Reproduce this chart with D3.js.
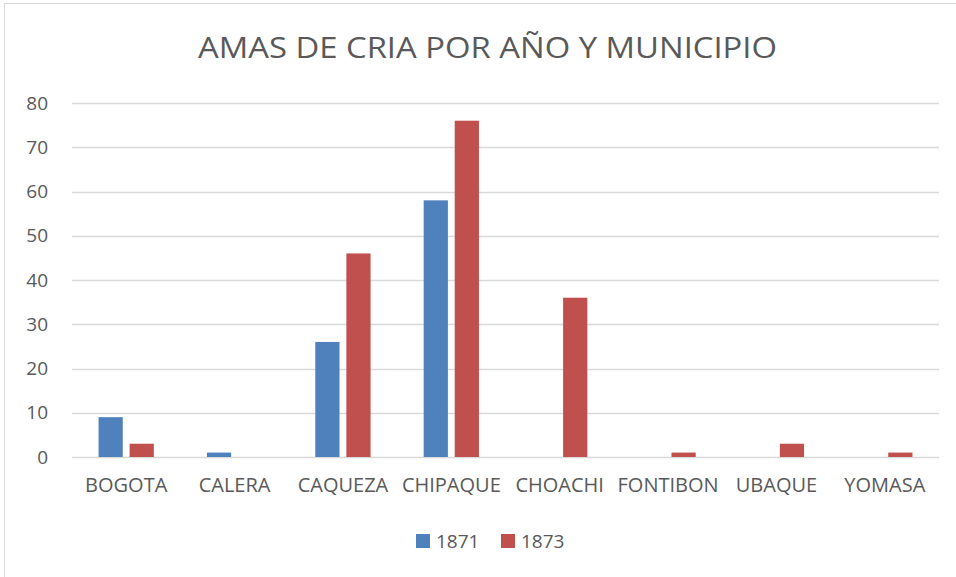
<!DOCTYPE html>
<html>
<head>
<meta charset="utf-8">
<script src="https://cdn.jsdelivr.net/npm/d3@7"></script>
<style>
  body { margin: 0; background: #fff; }
  text { font-family: "Open Sans", "Liberation Sans", sans-serif; fill: #595959; }
</style>
</head>
<body>
<div id="chart"></div>
<script>
const municipios = ["BOGOTA", "CALERA", "CAQUEZA", "CHIPAQUE", "CHOACHI", "FONTIBON", "UBAQUE", "YOMASA"];
const years = ["1871", "1873"];
const values1871 = [9, 1, 26, 58, 0, 0, 0, 0];
const values1873 = [3, 0, 46, 76, 36, 1, 3, 1];
const yTicks = [0, 10, 20, 30, 40, 50, 60, 70, 80];
const title = "AMAS DE CRIA POR AÑO Y MUNICIPIO";

const colors = ["#4F81BD", "#C0504D"];
const width = 956;
const height = 577;
const plotLeft = 72;
const plotRight = 939;
const plotTop = 103;
const plotBottom = 457;

const svg = d3.select("#chart")
    .append("svg")
    .attr("width", width)
    .attr("height", height);

// chart frame
svg.append("rect")
    .attr("x", 4.5)
    .attr("y", 3.5)
    .attr("width", width + 10)
    .attr("height", height + 10)
    .attr("fill", "none")
    .attr("stroke", "#d9d9d9");

svg.append("text")
    .attr("x", 487.5)
    .attr("y", 57.5)
    .attr("text-anchor", "middle")
    .attr("textLength", 579)
    .attr("lengthAdjust", "spacingAndGlyphs")
    .style("font-size", "29px")
    .text(title);

const x = d3.scaleBand()
    .domain(municipios)
    .range([plotLeft, plotRight])
    .paddingInner(0.49)
    .paddingOuter(0.245);

const x1 = d3.scaleBand()
    .domain(years)
    .range([0, x.bandwidth()])
    .paddingInner(0.22);

const y = d3.scaleLinear()
    .domain([0, 80])
    .range([plotBottom, plotTop]);

// gridlines
svg.append("g")
    .selectAll("line")
    .data(yTicks)
    .join("line")
    .attr("x1", plotLeft)
    .attr("x2", plotRight)
    .attr("y1", d => Math.round(y(d)) + 0.5)
    .attr("y2", d => Math.round(y(d)) + 0.5)
    .attr("stroke", "#d9d9d9")
    .attr("stroke-width", 1.5);

const yAxis = svg.append("g")
    .attr("transform", `translate(${plotLeft},0)`)
    .call(d3.axisLeft(y).tickValues(yTicks).tickSize(0).tickPadding(24));
yAxis.select(".domain").remove();
yAxis.selectAll("text").style("font-size", "19px").attr("fill", "#595959");

const series = [values1871, values1873];

const groups = svg.append("g")
    .selectAll("g")
    .data(years)
    .join("g")
    .attr("fill", (d, i) => colors[i]);

groups.selectAll("rect")
    .data((yr, i) => municipios.map((m, j) => ({ m, yr, v: series[i][j] })))
    .join("rect")
    .attr("x", d => x(d.m) + x1(d.yr))
    .attr("y", d => y(d.v))
    .attr("width", x1.bandwidth())
    .attr("height", d => plotBottom - y(d.v));

const xAxis = svg.append("g")
    .attr("transform", `translate(0,${plotBottom})`)
    .call(d3.axisBottom(x).tickSize(0).tickPadding(21));
xAxis.select(".domain").remove();
xAxis.selectAll("text").style("font-size", "20px").attr("fill", "#595959");

// legend
const legend = svg.append("g")
    .attr("transform", "translate(416,534)");

const legendItems = legend.selectAll("g")
    .data(years)
    .join("g")
    .attr("transform", (d, i) => `translate(${i * 85},0)`);

legendItems.append("rect")
    .attr("width", 14)
    .attr("height", 14)
    .attr("fill", (d, i) => colors[i]);

legendItems.append("text")
    .attr("x", 20)
    .attr("y", 14)
    .style("font-size", "19px")
    .text(d => d);
</script>
</body>
</html>
